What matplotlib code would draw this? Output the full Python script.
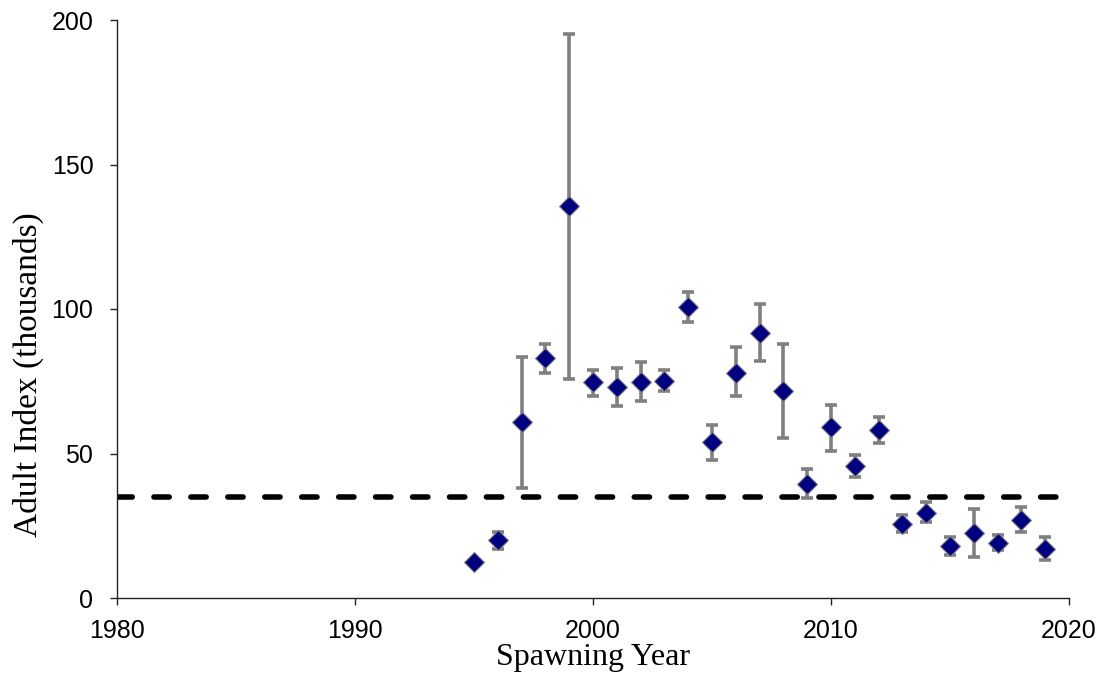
import matplotlib
matplotlib.use("Agg")
import matplotlib.pyplot as plt
import numpy as np

years = [1995, 1996, 1997, 1998, 1999, 2000, 2001, 2002, 2003, 2004, 2005, 2006,
         2007, 2008, 2009, 2010, 2011, 2012, 2013, 2014, 2015, 2016, 2017, 2018, 2019]
index = [12.5, 20, 61, 83, 135.5, 74.7, 73, 74.7, 75, 100.7, 54, 78,
         91.7, 71.6, 39.4, 59, 45.7, 58, 25.6, 29.4, 18, 22.5, 19, 27, 17]
upper = [12.5, 23, 83.4, 88, 195, 79, 79.6, 81.7, 79, 106, 60, 87,
         101.7, 88, 44.6, 66.8, 49.5, 62.6, 28.7, 33.2, 21, 30.8, 21.8, 31.5, 21]
lower = [12.5, 17, 38, 78, 75.8, 70, 66.4, 68, 71.6, 95.5, 47.8, 70,
         82, 55.4, 34.6, 50.9, 41.9, 53.6, 22.8, 26.3, 14.9, 14.2, 16.6, 22.8, 13]
threshold = 35

x_ticks = [1980, 1990, 2000, 2010, 2020]
y_ticks = [0, 50, 100, 150, 200]

fig = plt.figure(figsize=(11.02, 6.77), dpi=100)
ax = fig.add_axes([117/1102, 79/677, (1069-117)/1102, (598-20)/677])

idx = np.array(index)
yerr = np.array([idx - np.array(lower), np.array(upper) - idx])
ax.errorbar(years, index, yerr=yerr, fmt='none', ecolor='#808080',
            elinewidth=2.6, capsize=4.3, capthick=2.6, zorder=2)
ax.plot(years, index, linestyle='none', marker='D', markersize=10.5,
        markerfacecolor='#000080', markeredgecolor='#808080', markeredgewidth=0.8, zorder=3)
ax.axhline(threshold, color='black', linewidth=4, linestyle=(0, (2.75, 3.9)),
           dash_capstyle='round', zorder=1)

ax.set_xlim(1980, 2020)
ax.set_ylim(0, 200)
ax.set_xticks(x_ticks)
ax.set_yticks(y_ticks)
for s in ['top', 'right']:
    ax.spines[s].set_visible(False)
for s in ['left', 'bottom']:
    ax.spines[s].set_linewidth(1.0)
    ax.spines[s].set_color('#222222')
ax.tick_params(axis='both', direction='out', length=5, width=1, labelsize=18, color='#222222')
ax.tick_params(axis='y', pad=12)
ax.tick_params(axis='x', pad=10)
for lab in ax.get_xticklabels() + ax.get_yticklabels():
    lab.set_fontfamily('Liberation Sans')
ax.set_xlabel('Spawning Year', fontfamily='Liberation Serif', fontsize=23, labelpad=0)
ax.set_ylabel('Adult Index (thousands)', fontfamily='Liberation Serif', fontsize=24)
ax.yaxis.label.set_verticalalignment('center')
ax.yaxis.set_label_coords((28 - 117) / 952, (598 - 375) / 578)

fig.savefig('out.png', dpi=100)
